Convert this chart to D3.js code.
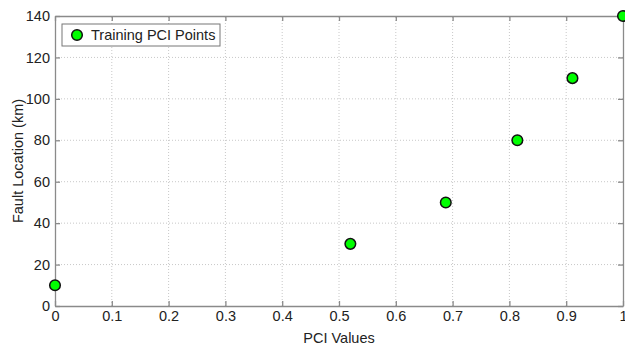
<!DOCTYPE html>
<html>
<head>
<meta charset="utf-8">
<script src="https://cdn.jsdelivr.net/npm/d3@7"></script>
<style>
  html, body { margin: 0; padding: 0; background: #fff; }
  svg text { font-family: "Liberation Sans", Arial, sans-serif; fill: #222; }
</style>
</head>
<body>
<div id="chart"></div>
<script>
// PCI training points: PCI value vs fault location (km)
const pciValues = [0, 0.52, 0.688, 0.814, 0.911, 1];
const faultKm   = [10, 30, 50, 80, 110, 140];
const xTicks = [0, 0.1, 0.2, 0.3, 0.4, 0.5, 0.6, 0.7, 0.8, 0.9, 1];
const yTicks = [0, 20, 40, 60, 80, 100, 120, 140];
const seriesName = "Training PCI Points";

const W = 625, H = 348;
const m = { left: 55, right: 2, top: 16, bottom: 42 };
const axisCol = "#8a8a8a";
const fs = 14.5;

const svg = d3.select("#chart").append("svg")
  .attr("width", W).attr("height", H);

const x = d3.scaleLinear().domain([0, 1]).range([m.left, W - m.right]);
const y = d3.scaleLinear().domain([0, 140]).range([H - m.bottom, m.top]);

// dotted grid
const grid = svg.append("g").attr("stroke", "#c8c8c8").attr("stroke-dasharray", "1,2").attr("stroke-width", 1);
grid.selectAll("line.gx").data(xTicks.slice(1, -1)).join("line")
  .attr("x1", d => x(d)).attr("x2", d => x(d)).attr("y1", y(0)).attr("y2", y(140));
grid.selectAll("line.gy").data(yTicks.slice(1, -1)).join("line")
  .attr("y1", d => y(d)).attr("y2", d => y(d)).attr("x1", x(0)).attr("x2", x(1));

// axes: ticks point inward, box on all four sides
function styleAxis(g) {
  g.selectAll(".domain").attr("stroke", axisCol).attr("stroke-width", 1.3);
  g.selectAll(".tick line").attr("stroke", axisCol).attr("stroke-width", 1.3);
  g.selectAll("text").attr("font-size", fs).attr("fill", "#222");
}
const fmt = d => String(d);

svg.append("g").attr("transform", `translate(0,${y(0)})`)
  .call(d3.axisBottom(x).tickValues(xTicks).tickFormat(fmt).tickSizeInner(-5).tickSizeOuter(0).tickPadding(5))
  .call(styleAxis);
svg.append("g").attr("transform", `translate(${x(0)},0)`)
  .call(d3.axisLeft(y).tickValues(yTicks).tickFormat(fmt).tickSizeInner(-5).tickSizeOuter(0).tickPadding(5))
  .call(styleAxis);
svg.append("g").attr("transform", `translate(0,${y(140)})`)
  .call(d3.axisTop(x).tickValues(xTicks).tickFormat("").tickSizeInner(-5).tickSizeOuter(0))
  .call(styleAxis);
svg.append("g").attr("transform", `translate(${x(1)},0)`)
  .call(d3.axisRight(y).tickValues(yTicks).tickFormat("").tickSizeInner(-5).tickSizeOuter(0))
  .call(styleAxis);

// axis titles
svg.append("text").attr("x", (x(0) + x(1)) / 2).attr("y", H - 5)
  .attr("text-anchor", "middle").attr("font-size", fs).text("PCI Values");
svg.append("text").attr("transform", `translate(23,${(y(0) + y(140)) / 2}) rotate(-90)`)
  .attr("text-anchor", "middle").attr("font-size", fs).text("Fault Location (km)");

// points
const pts = pciValues.map((v, i) => ({ v, km: faultKm[i] }));
svg.append("g").selectAll("circle").data(pts).join("circle")
  .attr("cx", d => x(d.v)).attr("cy", d => y(d.km)).attr("r", 5.3)
  .attr("fill", "#00ff00").attr("stroke", "#111").attr("stroke-width", 1.5);

// legend
const lg = svg.append("g").attr("transform", "translate(62,24)");
lg.append("rect").attr("width", 158).attr("height", 22)
  .attr("fill", "#fff").attr("stroke", "#777").attr("stroke-width", 1);
lg.append("circle").attr("cx", 15).attr("cy", 11).attr("r", 5.3)
  .attr("fill", "#00ff00").attr("stroke", "#111").attr("stroke-width", 1.5);
lg.append("text").attr("x", 29).attr("y", 16).attr("font-size", fs).text(seriesName);
</script>
</body>
</html>
